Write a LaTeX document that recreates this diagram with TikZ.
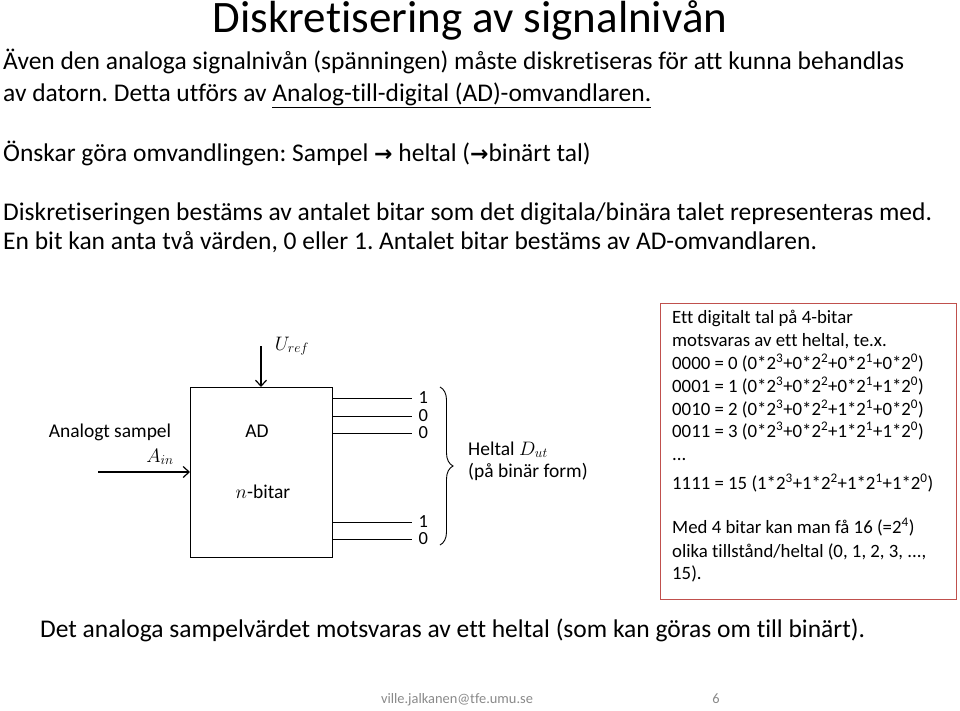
\RequirePackage{fix-cm}
\documentclass[tikz,border=0pt]{standalone}
\usepackage{fontspec}
\setmainfont{Carlito}[Ligatures=NoCommon]
\newfontfamily\arrowfont{DejaVu Sans}
\usetikzlibrary{arrows.meta, positioning, decorations.pathreplacing}
\definecolor{boxred}{RGB}{192,80,77}
\definecolor{footgray}{RGB}{137,137,137}
\newcommand{\pxfont}[1]{\fontsize{#1}{#1}\selectfont}
\frenchspacing

\tikzset{
  headline/.style={anchor=base, inner sep=0pt, font=\pxfont{45}},
  body/.style={anchor=base west, inner sep=0pt, font=\pxfont{25.5}},
  lbl/.style={anchor=base, inner sep=0pt, font=\pxfont{19.5}},
  info/.style={anchor=base west, inner sep=0pt, font=\pxfont{18.8}},
  bit/.style={anchor=west, inner sep=0pt, xshift=6pt, font=\pxfont{18.5}},
  sig/.style={line width=1.2pt, -{Straight Barb[length=6pt, width=11pt]}},
  bitline/.style={line width=1pt}
}

\begin{document}
\begin{tikzpicture}[x=1pt, y=-1pt]
    \useasboundingbox (0,0) rectangle (960,710);

    % Heading and text
    \node[headline] (head) at (470,32) {Diskretisering av signalnivån};
    \node[body] (t1) at (3,69) {Även den analoga signalnivån (spänningen) måste diskretiseras för att kunna behandlas};
    \node[body] (t2) at (3,101) {av datorn. Detta utförs av \underline{Analog-till-digital (AD)-omvandlaren.}};
    \node[body] (t3) at (3,161) {Önskar göra omvandlingen: Sampel {\arrowfont\bfseries\pxfont{22}→} heltal ({\arrowfont\bfseries\pxfont{22}→}binärt tal)};
    \node[body] (t4) at (3,220) {Diskretiseringen bestäms av antalet bitar som det digitala/binära talet representeras med.};
    \node[body] (t5) at (3,249) {En bit kan anta två värden, 0 eller 1. Antalet bitar bestäms av AD-omvandlaren.};

    % AD converter
    \node[draw, line width=1.2pt, minimum width=142pt, minimum height=170pt, anchor=north west] (ad) at (190,387) {};
    \node[lbl] (adname) at (257,437) {AD};
    \node[lbl] (adbits) at (263,498) {$n$-bitar};

    % Input
    \node[lbl] (sampel) at (110,437) {Analogt sampel};
    \node[lbl] (ain) at (160,462) {$A_{in}$};
    \coordinate (ainstart) at (98,472);
    \draw[sig] (ainstart) -- (ainstart -| ad.west);

    % Reference voltage
    \node[lbl] (uref) at (292,350) {$U_{ref}$};
    \coordinate (urefstart) at (261,346);
    \draw[sig] (urefstart) -- (urefstart |- ad.north);

    % Output bits
    \foreach \y/\b/\n in {398/1/1, 416/0/2, 433/0/3, 522/1/4, 539/0/5} {
        \coordinate (bend\n) at (412,\y);
        \draw[bitline] (bend\n -| ad.east) -- (bend\n) node[bit] (bit\n) {\b};
    }

    % Brace
    \coordinate (brtop) at (440,387);
    \coordinate (brbot) at (440,545);
    \draw[line width=0.9pt, decorate, decoration={brace, amplitude=13pt}] (brtop) -- (brbot);
    \node[info, font=\pxfont{19.5}] (heltal) at (468,455) {Heltal $D_{ut}$};
    \node[info, font=\pxfont{19.5}] (binform) at (468,477) {(på binär form)};

    % Example box
    \node[draw=boxred, line width=1.3pt, minimum width=296pt, minimum height=296pt, anchor=north west] (infobox) at (660,303) {};
    \node[info] (i1) at (672,323) {Ett digitalt tal på 4-bitar};
    \node[info] (i2) at (672,346) {motsvaras av ett heltal, te.x.};
    \node[info] (i3) at (672,369) {0000 = 0 (0*2\textsuperscript{3}+0*2\textsuperscript{2}+0*2\textsuperscript{1}+0*2\textsuperscript{0})};
    \node[info] (i4) at (672,392) {0001 = 1 (0*2\textsuperscript{3}+0*2\textsuperscript{2}+0*2\textsuperscript{1}+1*2\textsuperscript{0})};
    \node[info] (i5) at (672,415) {0010 = 2 (0*2\textsuperscript{3}+0*2\textsuperscript{2}+1*2\textsuperscript{1}+0*2\textsuperscript{0})};
    \node[info] (i6) at (672,437) {0011 = 3 (0*2\textsuperscript{3}+0*2\textsuperscript{2}+1*2\textsuperscript{1}+1*2\textsuperscript{0})};
    \node[info] (i7) at (672,460) {...};
    \node[info] (i8) at (672,489) {1111 = 15 (1*2\textsuperscript{3}+1*2\textsuperscript{2}+1*2\textsuperscript{1}+1*2\textsuperscript{0})};
    \node[info] (i9) at (672,533) {Med 4 bitar kan man få 16 (=2\textsuperscript{4})};
    \node[info] (i10) at (672,557) {olika tillstånd/heltal (0, 1, 2, 3, ...,};
    \node[info] (i11) at (672,579) {15).};

    % Bottom line and footer
    \node[body] (summary) at (40,637) {Det analoga sampelvärdet motsvaras av ett heltal (som kan göras om till binärt).};
    \node[anchor=base, inner sep=0pt, font=\pxfont{14.4}, text=footgray] (mail) at (457,703) {ville.jalkanen@tfe.umu.se};
    \node[anchor=base, inner sep=0pt, font=\pxfont{14.4}, text=footgray] (page) at (716,703) {6};
\end{tikzpicture}
\end{document}
